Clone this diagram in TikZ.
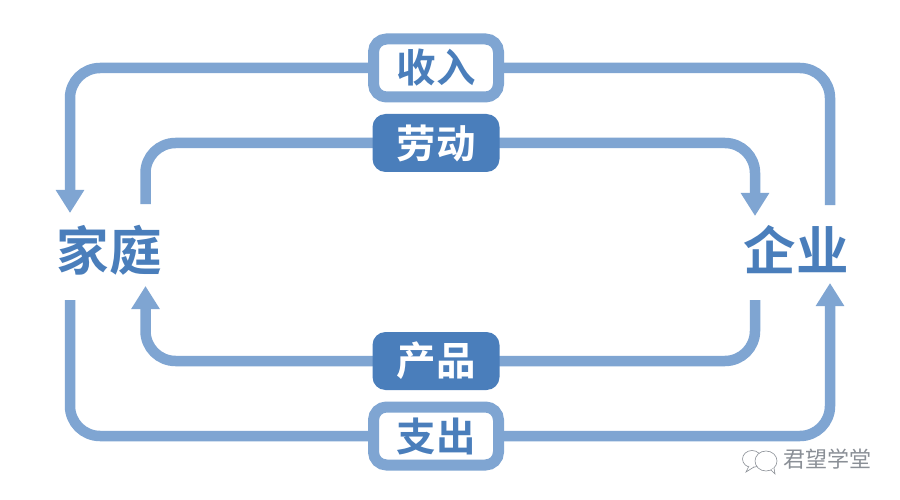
\documentclass[tikz,border=0pt]{standalone}
\usepackage{fontspec}
\newfontfamily\cjk{Noto Sans CJK SC Bold}
\newfontfamily\cjkl{Noto Sans CJK SC}
\usetikzlibrary{arrows.meta}
\definecolor{flow}{HTML}{7FA5D2}
\definecolor{deep}{HTML}{4A7EBB}
\definecolor{mark}{HTML}{8A8F96}
\tikzset{
  flowline/.style={draw=flow,line width=10.5pt,rounded corners=30pt},
  flowarrow/.style={flowline,-{Triangle[width=27pt,length=23pt]}},
  openbox/.style={draw=flow,line width=11pt,fill=white,rounded corners=13pt,minimum width=125pt,minimum height=58pt,inner sep=0pt,text=deep,font=\cjk\fontsize{39.5}{40}\selectfont},
  fillbox/.style={fill=deep,rounded corners=13pt,minimum width=127pt,minimum height=58pt,inner sep=0pt,text=white,font=\cjk\fontsize{39.5}{40}\selectfont},
  party/.style={inner sep=0pt,text=deep,font=\cjk\fontsize{52.5}{53}\selectfont},
  bubble/.style={draw=mark,line width=0.6pt,fill=white},
  watermark/.style={inner sep=0pt,text=mark,font=\cjkl\fontsize{22}{22}\selectfont}
}
\begin{document}
\begin{tikzpicture}[x=1pt,y=-1pt]
\useasboundingbox (0,0) rectangle (900,500);
\fill[white] (0,0) rectangle (900,500);
% free ends
\coordinate (a1) at (70,213);
\coordinate (a2) at (755,216);
\coordinate (a3) at (145.5,286);
\coordinate (a4) at (830,283);
\coordinate (s1) at (830,205);
\coordinate (s2) at (145.5,204);
\coordinate (s3) at (755,300);
\coordinate (s4) at (70,300);
% connectors (drawn first, boxes cover their joins)
\coordinate (ti) at (436,68);
\coordinate (tl) at (436,143);
\coordinate (tp) at (436,361);
\coordinate (tz) at (436,436);
\draw[flowarrow] (ti) -| (a1);
\draw[flowline] (s1) |- (ti);
\draw[flowline] (s2) |- (tl);
\draw[flowarrow] (tl) -| (a2);
\draw[flowline] (s3) |- (tp);
\draw[flowarrow] (tp) -| (a3);
\draw[flowline] (s4) |- (tz);
\draw[flowarrow] (tz) -| (a4);
% nodes
\node[openbox] (income) at (ti) {收入};
\node[fillbox] (labour) at (tl) {劳动};
\node[fillbox] (goods) at (tp) {产品};
\node[openbox] (spend) at (tz) {支出};
\node[party] (home) at (109,250) {家庭};
\node[party] (firm) at (796,250) {企业};
% watermark
\draw[bubble] (752,459) ellipse (9.5pt and 8.5pt);
\draw[bubble] (749,466) -- (746,472) -- (754,467);
\draw[bubble] (766,461) ellipse (11pt and 10pt);
\draw[bubble] (771,470) -- (775,474) -- (774,468);
\node[watermark,anchor=west] (brand) at (783,459) {君望学堂};
\end{tikzpicture}
\end{document}
